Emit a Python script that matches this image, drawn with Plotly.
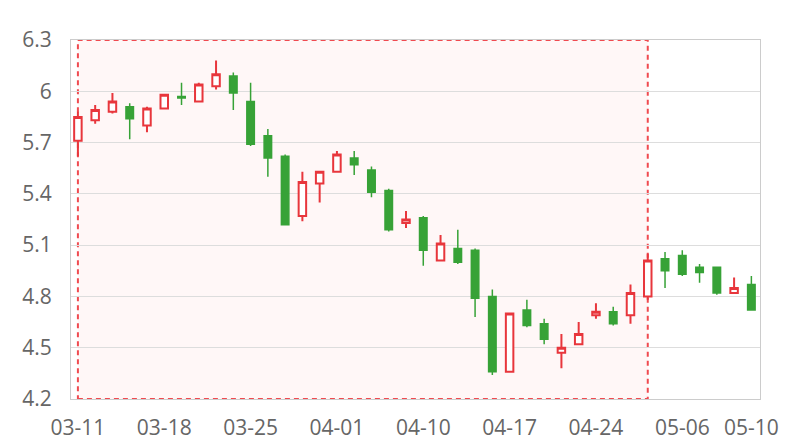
import plotly.graph_objects as go

dates = ["03-11", "03-12", "03-13", "03-14", "03-15", "03-18", "03-19", "03-20", "03-21", "03-22",
         "03-25", "03-26", "03-27", "03-28", "03-29", "04-01", "04-02", "04-03", "04-08", "04-09",
         "04-10", "04-11", "04-12", "04-15", "04-16", "04-17", "04-18", "04-19", "04-22", "04-23",
         "04-24", "04-25", "04-26", "04-29", "04-30", "05-06", "05-07", "05-08", "05-09", "05-10"]
open_ = [5.71, 5.83, 5.88, 5.91, 5.80, 5.90, 5.97, 5.94, 6.03, 6.09,
         5.94, 5.74, 5.62, 5.27, 5.46, 5.53, 5.61, 5.54, 5.42, 5.23,
         5.26, 5.01, 5.08, 5.07, 4.80, 4.36, 4.72, 4.64, 4.47, 4.52,
         4.69, 4.71, 4.69, 4.80, 5.02, 5.04, 4.97, 4.97, 4.82, 4.87]
close = [5.85, 5.89, 5.94, 5.84, 5.90, 5.98, 5.96, 6.04, 6.10, 5.99,
         5.69, 5.61, 5.22, 5.47, 5.53, 5.63, 5.57, 5.41, 5.19, 5.25,
         5.07, 5.11, 5.00, 4.79, 4.36, 4.70, 4.63, 4.55, 4.50, 4.58,
         4.71, 4.64, 4.82, 5.01, 4.95, 4.93, 4.94, 4.82, 4.85, 4.72]
high = [5.88, 5.92, 5.99, 5.93, 5.91, 5.98, 6.05, 6.05, 6.18, 6.11,
        6.05, 5.78, 5.63, 5.53, 5.53, 5.65, 5.65, 5.56, 5.43, 5.30,
        5.27, 5.16, 5.19, 5.08, 4.84, 4.70, 4.78, 4.67, 4.58, 4.65,
        4.76, 4.74, 4.87, 5.05, 5.06, 5.07, 4.99, 4.97, 4.91, 4.92]
low = [5.62, 5.81, 5.87, 5.72, 5.76, 5.90, 5.92, 5.94, 6.01, 5.89,
       5.68, 5.50, 5.22, 5.24, 5.35, 5.53, 5.51, 5.38, 5.18, 5.20,
       4.98, 5.01, 4.99, 4.68, 4.34, 4.36, 4.62, 4.52, 4.38, 4.52,
       4.67, 4.63, 4.64, 4.78, 4.85, 4.92, 4.88, 4.81, 4.82, 4.72]

x_tick_labels = ["03-11", "03-18", "03-25", "04-01", "04-10", "04-17", "04-24", "05-06", "05-10"]
y_ticks = [4.2, 4.5, 4.8, 5.1, 5.4, 5.7, 6.0, 6.3]
y_tick_labels = ["4.2", "4.5", "4.8", "5.1", "5.4", "5.7", "6", "6.3"]
area_start, area_end = "03-11", "04-29"

RED = "#e8363c"
GREEN = "#37a237"

fig = go.Figure(go.Candlestick(
    x=dates, open=open_, high=high, low=low, close=close,
    increasing=dict(line=dict(color=RED, width=2), fillcolor="#ffffff"),
    decreasing=dict(line=dict(color=GREEN, width=1.5), fillcolor=GREEN),
    whiskerwidth=0,
    showlegend=False,
))

fig.add_shape(type="rect", xref="x", yref="y",
              x0=dates.index(area_start), x1=dates.index(area_end),
              y0=y_ticks[0], y1=y_ticks[-1],
              line=dict(color="#f04a50", width=2, dash="5px,4px"),
              fillcolor="rgba(255,225,225,0.25)", layer="below")

font = dict(family="Open Sans, DejaVu Sans, sans-serif", size=21, color="#666666")

fig.update_layout(
    width=800, height=440,
    margin=dict(l=71, r=40, t=40, b=41),
    paper_bgcolor="white", plot_bgcolor="white",
    boxgap=0.38,
    xaxis=dict(
        type="category", categoryorder="array", categoryarray=dates,
        range=[-0.4, 39.5], automargin=False,
        rangeslider=dict(visible=False),
        tickmode="array", tickvals=x_tick_labels, ticktext=x_tick_labels,
        showgrid=False, showline=True, linecolor="#cccccc", linewidth=1, mirror=True,
        ticks="outside", ticklen=10, tickcolor="rgba(0,0,0,0)",
        tickfont=font, zeroline=False,
    ),
    yaxis=dict(
        range=[4.2, 6.3], automargin=False,
        tickmode="array", tickvals=y_ticks, ticktext=y_tick_labels,
        showgrid=True, gridcolor="#dddddd", gridwidth=1,
        showline=True, linecolor="#cccccc", linewidth=1, mirror=True,
        ticks="outside", ticklen=14, tickcolor="rgba(0,0,0,0)",
        tickfont=font, zeroline=False,
    ),
)

fig.write_html("out.html", config={"displayModeBar": False},
               post_script="document.body.style.margin='0';document.body.style.overflow='hidden';")
